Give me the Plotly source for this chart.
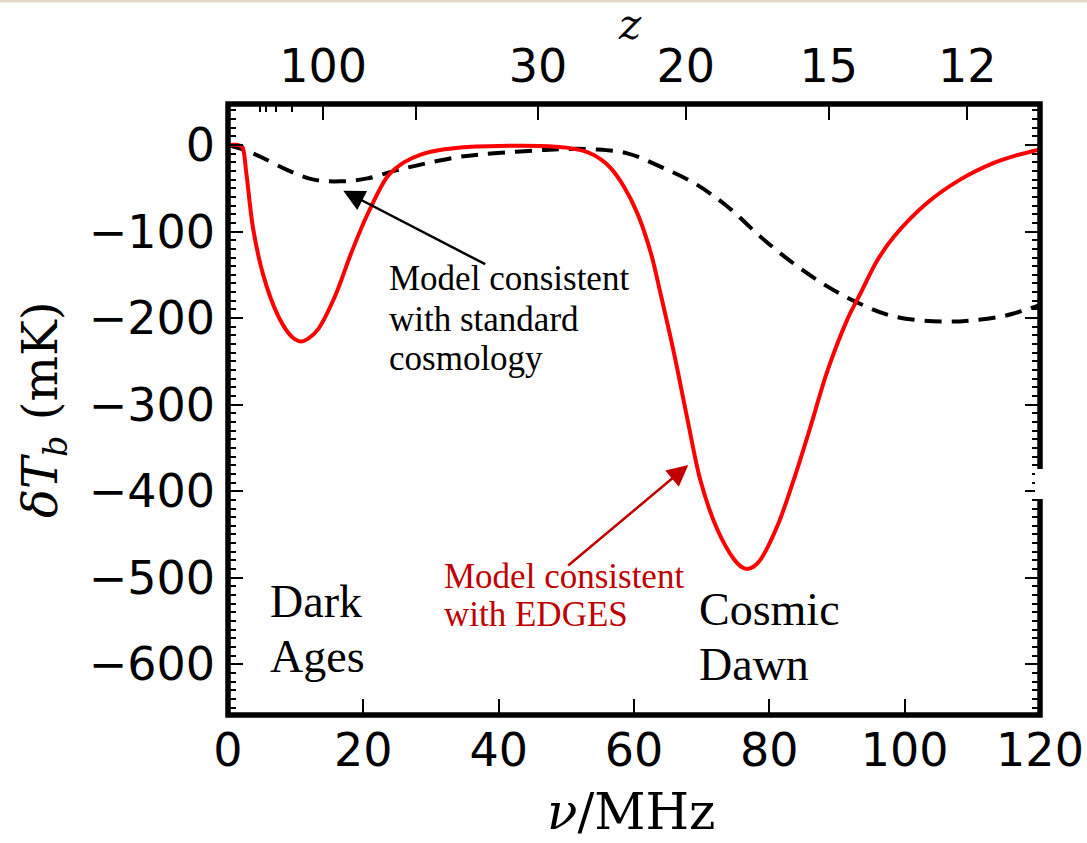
import plotly.graph_objects as go

# 21-cm brightness temperature models (nu in MHz, dTb in mK)
nu_edges = [0, 1.5, 2.1, 2.7, 3.7, 5.2, 7.2, 8.9, 9.8, 10.8, 11.8, 13.3, 15.8, 18.2,
            20.5, 23.6, 26.0, 28.5, 32.0, 36.0, 40.0, 46.0, 50.0, 53.0, 55.0, 56.6,
            58.5, 60.5, 62.5, 63.9, 65.9, 67.9, 69.8, 72.3, 74.8, 75.8, 76.7, 77.7,
            78.7, 81.2, 83.6, 86.1, 88.5, 91.5, 93.5, 95.9, 98.4, 103.3, 108.2,
            113.1, 116.5, 120.0]
tb_edges = [0, 0, -2, -32, -96, -150, -194, -217, -224, -227, -224, -213, -175, -125,
            -82, -36, -20, -11, -5, -2, -1, -1, -3, -8, -16, -27,
            -48, -79, -125, -171, -240, -317, -387, -444, -479, -487, -490, -487,
            -479, -440, -387, -325, -263, -202, -171, -134, -106, -67, -40,
            -21, -12, -5]

nu_std = [0, 2.5, 4.8, 8.8, 12.7, 16.6, 20.6, 25.0, 29.4, 34.3, 39.3, 46.6, 50.0,
          54.0, 59.0, 63.9, 68.9, 73.8, 78.7, 83.6, 88.5, 93.0, 98.4, 105.7, 110.7,
          115.0, 118.0, 120.0]
tb_std = [0, -6, -13.5, -29, -40, -42, -38.5, -29, -21, -13.5, -9.6, -5.8, -4.5,
          -5, -9.6, -25, -44, -71, -106, -137, -163, -182, -198, -204, -202,
          -197, -190, -185]

# redshift axis on top: nu = 1420.4 / (1 + z)
NU21 = 1420.4
z_major = [100, 50, 30, 20, 15, 12]
z_major_text = ["100", "", "30", "20", "15", "12"]
z_minor = [300, 250, 200, 150]

x_ticks = [0, 20, 40, 60, 80, 100, 120]
y_ticks = [0, -100, -200, -300, -400, -500, -600]

W, H = 1087, 843
L, R, T, B = 228, 47, 104, 128
PW, PH = W - L - R, H - T - B


def px(x):
    return (x - L) / PW


def py(y):
    return (H - B - y) / PH


def z_to_nu(z):
    return NU21 / (1 + z)


fig = go.Figure()
fig.add_trace(go.Scatter(
    x=nu_std, y=tb_std, mode="lines", hoverinfo="skip",
    line=dict(color="black", width=4, dash="17px,10px", shape="spline", smoothing=1.0)))
fig.add_trace(go.Scatter(
    x=nu_edges, y=tb_edges, mode="lines", hoverinfo="skip",
    line=dict(color="#ff0000", width=4, shape="spline", smoothing=0.9)))
# carrier trace for the top redshift axis
fig.add_trace(go.Scatter(x=[0, 120], y=[0, 0], xaxis="x2", mode="lines",
                         line=dict(width=0), opacity=0, hoverinfo="skip"))

tickfont = dict(family="DejaVu Sans", size=46, color="black")

fig.update_layout(
    width=W, height=H,
    margin=dict(l=L, r=R, t=T, b=B, autoexpand=False),
    paper_bgcolor="white", plot_bgcolor="white",
    showlegend=False,
    xaxis=dict(range=[0, 120], tickvals=x_ticks, ticks="inside", ticklen=16,
               tickwidth=2, tickcolor="black", showgrid=False, zeroline=False,
               showline=False, tickfont=tickfont, ticklabelstandoff=4,
               automargin=False),
    xaxis2=dict(range=[0, 120], overlaying="x", side="top",
                tickvals=[z_to_nu(z) for z in z_major], ticktext=z_major_text,
                ticks="inside", ticklen=16, tickwidth=2, tickcolor="black",
                minor=dict(tickvals=[z_to_nu(z) for z in z_minor], ticks="inside",
                           ticklen=8, tickwidth=2, tickcolor="black"),
                showgrid=False, zeroline=False, showline=False, tickfont=tickfont,
                ticklabelstandoff=12, automargin=False),
    yaxis=dict(range=[-658.6, 47.4], tickvals=y_ticks, ticks="inside", ticklen=15,
               tickwidth=2, tickcolor="black", mirror="ticks",
               minor=dict(dtick=10, tick0=0, ticks="inside", ticklen=8,
                          tickwidth=2, tickcolor="black"),
               showgrid=False, zeroline=False, showline=False, tickfont=tickfont,
               ticklabelstandoff=12, automargin=False),
)

shapes = [
    dict(type="rect", xref="paper", yref="paper", x0=0, x1=1, y0=0, y1=1,
         line=dict(color="black", width=5.5), layer="above"),
    dict(type="rect", xref="paper", yref="paper", x0=px(1035), x1=px(1048),
         y0=py(499), y1=py(469), line=dict(width=0), fillcolor="white", layer="above"),
    dict(type="line", xref="paper", yref="paper", x0=px(0), x1=px(W),
         y0=py(1), y1=py(1), line=dict(color="#e3d7c6", width=3), layer="above"),
]
fig.update_layout(shapes=shapes)

serif = "Liberation Serif"
black_txt = dict(family=serif, size=35, color="black")
red_txt = dict(family=serif, size=35, color="#c00000")
big_txt = dict(family=serif, size=46, color="black")

notes = [
    ("Model consistent", 386.7, 278, black_txt),
    ("with standard", 386.7, 319, black_txt),
    ("cosmology", 386.7, 358, black_txt),
    ("Model consistent", 441.7, 576, red_txt),
    ("with EDGES", 441.7, 614, red_txt),
    ("Dark", 268, 601, big_txt),
    ("Ages", 268, 656, big_txt),
    ("Cosmic", 697, 609, big_txt),
    ("Dawn", 697, 664, big_txt),
]
annotations = []
for text, x, y, font in notes:
    annotations.append(dict(text=text, x=px(x), y=py(y), xref="paper", yref="paper",
                            xanchor="left", yanchor="middle", showarrow=False, font=font))

# arrows pointing at each model curve
annotations.append(dict(text="", x=px(343.3), y=py(190.7), xref="paper", yref="paper",
                        ax=143.4, ay=74.3, showarrow=True, arrowhead=2, arrowsize=1.7,
                        arrowwidth=2.5, arrowcolor="black"))
annotations.append(dict(text="", x=px(688.3), y=py(465), xref="paper", yref="paper",
                        ax=-121.6, ay=101.7, showarrow=True, arrowhead=2, arrowsize=1.7,
                        arrowwidth=2.5, arrowcolor="#c00000"))

# axis titles
annotations.append(dict(text="<i>δT</i><sub><i>b</i></sub> (mK)", x=px(43), y=py(410),
                        xref="paper", yref="paper", xanchor="center", yanchor="middle",
                        textangle=-90, showarrow=False,
                        font=dict(family="DejaVu Serif", size=48, color="black")))
annotations.append(dict(text="<i>ν</i>/MHz", x=px(631), y=py(812), xref="paper",
                        yref="paper", xanchor="center", yanchor="middle", showarrow=False,
                        font=dict(family="DejaVu Serif", size=50, color="black")))
annotations.append(dict(text="<i>z</i>", x=px(630), y=py(25), xref="paper",
                        yref="paper", xanchor="center", yanchor="middle", showarrow=False,
                        font=dict(family="DejaVu Serif", size=42, color="black")))
fig.update_layout(annotations=annotations)

fig.write_html("out.html")
